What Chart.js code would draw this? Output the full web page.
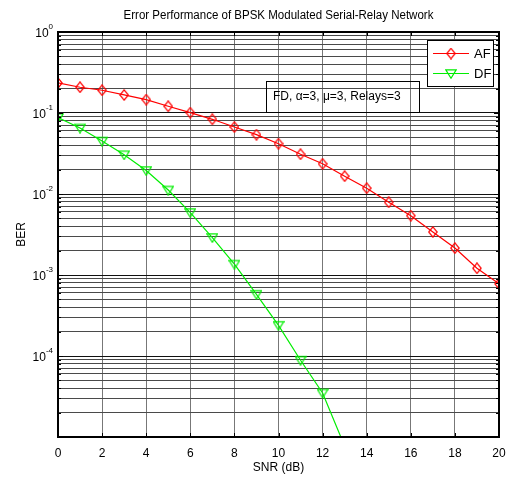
<!DOCTYPE html>
<html>
<head>
<meta charset="utf-8">
<script src="https://cdn.jsdelivr.net/npm/chart.js@4/dist/chart.umd.min.js"></script>
<style>
  html, body { margin: 0; padding: 0; background: #fff; }
  #wrap { width: 515px; height: 479px; }
</style>
</head>
<body>
<div id="wrap"><canvas id="ber"></canvas></div>
<script>
// SNR points (dB) and bit error rates for the two relaying schemes
const snrAF = [0, 1, 2, 3, 4, 5, 6, 7, 8, 9, 10, 11, 12, 13, 14, 15, 16, 17, 18, 19, 20];
const berAF = [0.235, 0.208, 0.191, 0.167, 0.1465, 0.121, 0.101, 0.0836, 0.0671, 0.054, 0.0418,
               0.031, 0.0236, 0.0166, 0.0118, 0.0079, 0.0054, 0.0034, 0.00215, 0.00121, 0.00078];
const snrDF = [0, 1, 2, 3, 4, 5, 6, 7, 8, 9, 10, 11, 12, 13];
const berDF = [0.0877, 0.0652, 0.045, 0.0305, 0.0195, 0.0112, 0.0059, 0.0029, 0.00136, 0.000578,
               0.000239, 0.0000887, 0.0000349, 0.0000077];

const seriesNames = ['AF', 'DF'];
const xTicks = [0, 2, 4, 6, 8, 10, 12, 14, 16, 18, 20];
const yDecadeLabels = [0, -1, -2, -3, -4];   // exponents printed as 10^k
const titleText = 'Error Performance of BPSK Modulated Serial-Relay Network';
const xTitle = 'SNR (dB)';
const yTitle = 'BER';
const noteText = 'FD, \u03B1=3, \u03BC=3, Relays=3';

const FONT = '"Liberation Sans", Arial, Helvetica, sans-serif';
const RED = '#ff0000';
const GREEN = '#00ee00';

// Marker glyphs: hollow tall diamond and hollow downward triangle
function diamondMarker(color) {
  const c = document.createElement('canvas');
  c.width = 10; c.height = 12;
  const g = c.getContext('2d');
  g.strokeStyle = color; g.lineWidth = 1.2;
  g.beginPath();
  g.moveTo(5, 0.8); g.lineTo(9.2, 6); g.lineTo(5, 11.2); g.lineTo(0.8, 6); g.closePath();
  g.stroke();
  return c;
}
function triangleMarker(color) {
  const c = document.createElement('canvas');
  c.width = 12; c.height = 11;
  const g = c.getContext('2d');
  g.strokeStyle = color; g.lineWidth = 1.2;
  g.beginPath();
  g.moveTo(0.8, 1.8); g.lineTo(11.2, 1.8); g.lineTo(6, 10.2); g.closePath();
  g.stroke();
  return c;
}
const redDiamond = diamondMarker(RED);
const greenTriangle = triangleMarker(GREEN);

const isDecade = v => Math.abs(Math.log10(v) - Math.round(Math.log10(v))) < 1e-9;

// Frame, inside ticks, decade labels, titles, note box and legend
const decorations = {
  id: 'decorations',
  afterDraw(chart) {
    const ctx = chart.ctx;
    const a = chart.chartArea;
    const xs = chart.scales.x, ys = chart.scales.y;
    ctx.save();

    // inside tick marks
    ctx.strokeStyle = '#000';
    ctx.lineWidth = 1;
    ctx.beginPath();
    xTicks.forEach(t => {
      const px = Math.round(xs.getPixelForValue(t)) + 0.5;
      ctx.moveTo(px, a.top); ctx.lineTo(px, a.top + 4);
      ctx.moveTo(px, a.bottom); ctx.lineTo(px, a.bottom - 4);
    });
    ys.ticks.forEach(t => {
      const py = Math.round(ys.getPixelForValue(t.value)) + 0.5;
      const len = isDecade(t.value) ? 5 : 3;
      ctx.moveTo(a.left, py); ctx.lineTo(a.left + len, py);
      ctx.moveTo(a.right, py); ctx.lineTo(a.right - len, py);
    });
    ctx.stroke();

    // axes frame
    ctx.lineWidth = 2;
    ctx.strokeRect(a.left, a.top, a.right - a.left, a.bottom - a.top);

    // decade labels 10^k
    ctx.fillStyle = '#000';
    ctx.textBaseline = 'middle';
    yDecadeLabels.forEach(k => {
      const py = ys.getPixelForValue(Math.pow(10, k));
      const exp = String(k);
      ctx.font = '8px ' + FONT;
      const ew = ctx.measureText(exp).width;
      ctx.textAlign = 'left';
      const ex = a.left - 5 - ew;
      ctx.fillText(exp, ex, py - 5);
      ctx.font = '12px ' + FONT;
      ctx.textAlign = 'right';
      ctx.fillText('10', ex, py + 2);
    });

    // chart title and axis titles
    ctx.font = '12px ' + FONT;
    ctx.textAlign = 'center';
    const cx = (a.left + a.right) / 2;
    ctx.save();
    ctx.translate(cx, 16);
    ctx.scale(0.96, 1);
    ctx.fillText(titleText, 0, 0);
    ctx.restore();
    ctx.fillText(xTitle, cx, 468);
    ctx.save();
    ctx.translate(22, (a.top + a.bottom) / 2);
    ctx.rotate(-Math.PI / 2);
    ctx.fillText(yTitle, 0, 0);
    ctx.restore();

    // text note box (transparent)
    ctx.lineWidth = 1;
    ctx.strokeStyle = '#000';
    ctx.strokeRect(266.5, 81.5, 153, 31);
    ctx.textAlign = 'left';
    ctx.fillText(noteText, 273, 97);

    // legend
    ctx.fillStyle = '#fff';
    ctx.fillRect(427, 40, 66, 46);
    ctx.strokeRect(427.5, 40.5, 66, 46);
    const entries = [
      { y: 53, color: RED, img: redDiamond },
      { y: 73, color: GREEN, img: greenTriangle }
    ];
    entries.forEach((e, i) => {
      ctx.strokeStyle = e.color;
      ctx.lineWidth = 1.2;
      ctx.beginPath();
      ctx.moveTo(433, e.y + 0.5); ctx.lineTo(469, e.y + 0.5);
      ctx.stroke();
      ctx.drawImage(e.img, 451 - e.img.width / 2, e.y - e.img.height / 2 + 0.5);
      ctx.fillStyle = '#000';
      ctx.font = '13px ' + FONT;
      ctx.textAlign = 'left';
      ctx.fillText(seriesNames[i], 474, e.y + 1);
    });

    ctx.restore();
  }
};

new Chart(document.getElementById('ber'), {
  type: 'line',
  data: {
    datasets: [
      {
        label: seriesNames[0],
        data: snrAF.map((x, i) => ({ x, y: berAF[i] })),
        borderColor: RED,
        borderWidth: 1.2,
        pointStyle: redDiamond,
        pointRadius: 5,
        fill: false,
        tension: 0
      },
      {
        label: seriesNames[1],
        data: snrDF.map((x, i) => ({ x, y: berDF[i] })),
        borderColor: GREEN,
        borderWidth: 1.2,
        pointStyle: greenTriangle,
        pointRadius: 5,
        fill: false,
        tension: 0
      }
    ]
  },
  options: {
    responsive: true,
    maintainAspectRatio: false,
    animation: false,
    devicePixelRatio: 1,
    layout: { padding: { top: 32, right: 16, left: 0, bottom: 0 } },
    plugins: {
      legend: { display: false },
      title: { display: false },
      tooltip: { enabled: false }
    },
    scales: {
      x: {
        type: 'linear',
        min: 0,
        max: 20,
        afterBuildTicks: s => { s.ticks = xTicks.map(v => ({ value: v })); },
        afterFit: s => { s.height = 42; },
        ticks: { color: '#000', font: { family: FONT, size: 12 }, padding: 9, maxRotation: 0 },
        grid: { color: '#777', lineWidth: 1, drawTicks: false },
        border: { display: false }
      },
      y: {
        type: 'logarithmic',
        min: 1e-5,
        max: 1,
        afterBuildTicks: s => {
          const t = [];
          for (let k = -5; k < 0; k++) {
            for (let m = 1; m <= 9; m++) t.push({ value: m * Math.pow(10, k) });
          }
          t.push({ value: 1 });
          s.ticks = t;
        },
        afterFit: s => { s.width = 58; },
        ticks: { display: false },
        grid: {
          drawTicks: false,
          color: c => (c.tick && isDecade(c.tick.value)) ? '#111' : '#4a4a4a',
          lineWidth: 1
        },
        border: { display: false }
      }
    }
  },
  plugins: [decorations]
});
</script>
</body>
</html>
